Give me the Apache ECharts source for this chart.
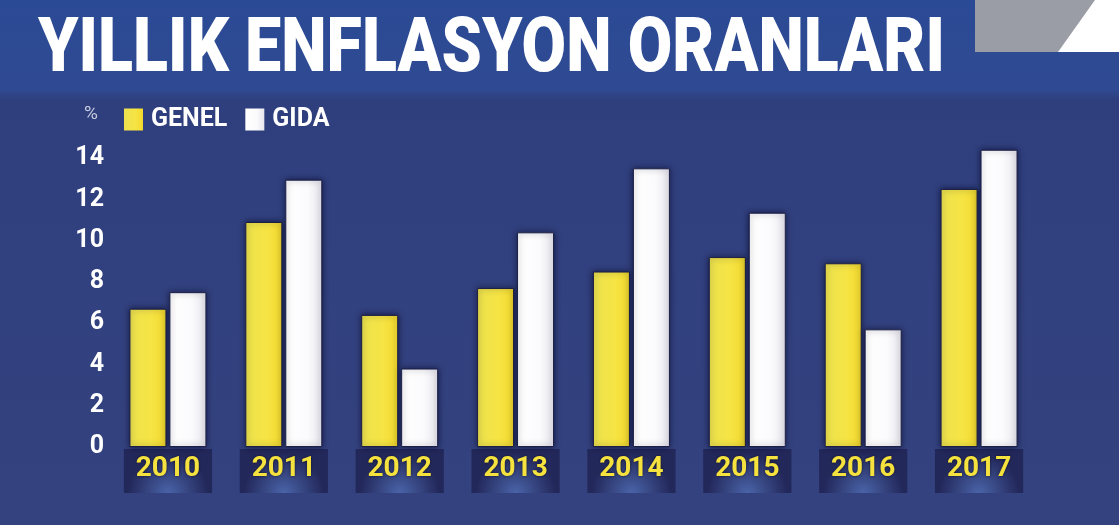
<!DOCTYPE html>
<html><head><meta charset="utf-8">
<script src="https://cdn.jsdelivr.net/npm/echarts@6/dist/echarts.min.js"></script>
<style>html,body{margin:0;padding:0;background:#303d7b}#c{width:1119px;height:525px}</style>
</head><body><div id="c"></div>
<script>
const title = 'YILLIK ENFLASYON ORANLARI';
const years = ['2010','2011','2012','2013','2014','2015','2016','2017'];
const genel = [6.7, 10.9, 6.4, 7.7, 8.5, 9.2, 8.9, 12.5];
const gida  = [7.5, 12.95, 3.8, 10.4, 13.5, 11.35, 5.7, 14.4];
const seriesNames = ['GENEL','GIDA'];
const yTicks = {min:0, max:14, interval:2};
const unit = '%';

const chart = echarts.init(document.getElementById('c'));
chart.setOption({
  backgroundColor: {type:'linear',x:0,y:0,x2:0,y2:1,colorStops:[
    {offset:0,color:'#2b4a95'},{offset:0.17,color:'#2f4a92'},{offset:0.19,color:'#2f3f7e'},{offset:1,color:'#34427f'}]},
  animation:false,
  graphic:[
    {type:'rect',shape:{x:975,y:0,width:144,height:52},style:{fill:'#9a9ca6'},z:1},
    {type:'polygon',shape:{points:[[1058,52],[1095,0],[1119,0],[1119,52]]},style:{fill:'#ffffff'},z:2},
    {type:'text',left:38,top:14,scaleX:0.85,originX:38,style:{text:title,fill:'#ffffff',font:'900 76px Roboto',
      shadowColor:'rgba(0,0,20,0.5)',shadowBlur:4},z:5},
    {type:'text',left:84,top:105,style:{text:unit,fill:'#c8cde0',font:'19px Roboto'},z:5}
  ],
  legend:{left:119,top:102,itemWidth:19,itemHeight:22,itemGap:18,icon:'rect',
    itemStyle:{borderWidth:0,shadowBlur:0},
    textStyle:{color:'#ffffff',fontFamily:'Roboto',fontWeight:'bold',fontSize:25,padding:[0,0,0,3]},
    data:seriesNames},
  grid:{left:110,right:82,top:158,bottom:78},
  xAxis:{type:'category',data:years,axisLine:{show:false},axisTick:{show:false},
    axisLabel:{color:'#f5e23e',fontFamily:'Roboto',fontWeight:'bold',fontSize:28,margin:2,
      backgroundColor:{type:'radial',x:0.5,y:1,r:0.9,colorStops:[{offset:0,color:'#4a64a8'},{offset:1,color:'#23285b'}]},
      padding:[6,12,10,12],
      textShadowColor:'rgba(0,0,0,0.6)',textShadowBlur:3}},
  yAxis:{type:'value',min:yTicks.min,max:yTicks.max,interval:yTicks.interval,
    splitLine:{show:false},axisLine:{show:false},axisTick:{show:false},
    axisLabel:{color:'#ffffff',fontFamily:'Roboto',fontWeight:'bold',fontSize:25,margin:6,padding:[4,0,0,0]}},
  series:[
    {name:seriesNames[0],type:'bar',data:genel,barWidth:37,barGap:'8%',clip:false,
      itemStyle:{color:{type:'linear',x:0,y:0,x2:1,y2:0,colorStops:[{offset:0,color:'#ece24e'},{offset:0.6,color:'#f6e444'},{offset:1,color:'#f3d92c'}]},
        borderColor:'#1c1f45',borderWidth:1,shadowColor:'rgba(0,0,30,0.6)',shadowBlur:6}},
    {name:seriesNames[1],type:'bar',data:gida,barWidth:37,clip:false,
      itemStyle:{color:{type:'linear',x:0,y:0,x2:1,y2:0,colorStops:[{offset:0,color:'#ffffff'},{offset:0.6,color:'#fbfbfd'},{offset:1,color:'#e8e6ee'}]},
        borderColor:'#1c1f45',borderWidth:1,shadowColor:'rgba(0,0,30,0.6)',shadowBlur:6}}
  ],
  color:['#f3e044','#ffffff']
});
</script></body></html>
